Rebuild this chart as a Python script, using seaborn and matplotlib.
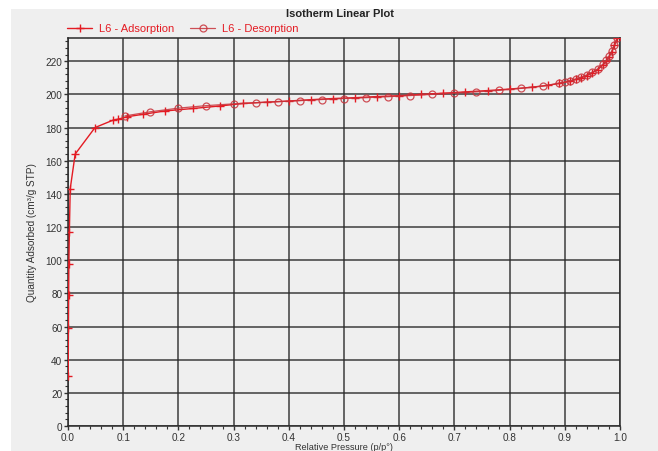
import numpy as np
import pandas as pd
import matplotlib
matplotlib.use("Agg")
import matplotlib.pyplot as plt
from matplotlib.patches import Rectangle
from matplotlib.ticker import MultipleLocator
import seaborn as sns

# ---- data ----
ads_p = [0.0004, 0.0008, 0.0012, 0.0016, 0.0025, 0.004, 0.013, 0.049, 0.082, 0.09,
         0.107, 0.136, 0.176, 0.227, 0.275, 0.317, 0.36, 0.40, 0.44, 0.48, 0.52,
         0.56, 0.60, 0.64, 0.68, 0.72, 0.76, 0.80, 0.84, 0.87, 0.89, 0.91, 0.92,
         0.93, 0.94, 0.95, 0.96, 0.97, 0.975, 0.98, 0.985, 0.99, 0.995]
ads_q = [30, 59, 79, 98, 117, 143, 164, 180, 184.5, 185, 186.5, 188, 190, 191.5,
         193, 194.5, 195.3, 196, 196.8, 197.5, 198, 198.7, 199.2, 200, 200.7,
         201.5, 202.3, 203.2, 204.3, 205.5, 206.6, 208, 209, 210, 211.3, 213,
         215, 218, 220, 222.5, 225.5, 229.5, 234]

des_p = [0.995, 0.99, 0.985, 0.98, 0.975, 0.97, 0.96, 0.95, 0.94, 0.93, 0.92,
         0.91, 0.90, 0.89, 0.86, 0.82, 0.78, 0.74, 0.70, 0.66, 0.62, 0.58, 0.54,
         0.50, 0.46, 0.42, 0.38, 0.34, 0.30, 0.25, 0.20, 0.149, 0.103]
des_q = [234, 230, 226, 223, 220.5, 218.5, 215.5, 213.5, 211.8, 210.5, 209.3,
         208.3, 207.5, 206.8, 205, 203.6, 202.4, 201.5, 200.8, 200, 199.3, 198.6,
         198, 197.5, 196.9, 196.2, 195.6, 195, 194.3, 193.2, 191.7, 189.5, 187]

x_ticks = [0.0, 0.1, 0.2, 0.3, 0.4, 0.5, 0.6, 0.7, 0.8, 0.9, 1.0]
y_ticks = [0, 20, 40, 60, 80, 100, 120, 140, 160, 180, 200, 220]

ads = pd.DataFrame({"p": ads_p, "q": ads_q})
des = pd.DataFrame({"p": des_p, "q": des_q})

sns.set_theme(style="white")
plt.rcParams["font.family"] = ["Liberation Sans", "DejaVu Sans"]

W, H = 658, 452
fig = plt.figure(figsize=(W / 100, H / 100), dpi=100, facecolor="white")
bg = "#efefef"
fig.patches.append(Rectangle((11 / W, 0), 1 - 11 / W, 1 - 10 / H,
                             transform=fig.transFigure, facecolor=bg,
                             edgecolor="none", zorder=-10))

ax = fig.add_axes([68 / W, 1 - 427 / H, (620 - 68) / W, (427 - 39) / H])
ax.set_zorder(1)
ax.set_facecolor(bg)

red = "#e41b23"
dred = "#c8323a"
sns.lineplot(data=ads, x="p", y="q", ax=ax, color=red, lw=1.0, marker="+",
             markersize=6, markeredgewidth=1.0, markeredgecolor=red,
             sort=False, label="L6 - Adsorption", zorder=3)
sns.lineplot(data=des, x="p", y="q", ax=ax, color=dred, lw=0.9, marker="o",
             markersize=5, markerfacecolor="none", markeredgewidth=0.9,
             markeredgecolor=dred, alpha=0.85,
             sort=False, label="L6 - Desorption", zorder=3)

ax.set_xlim(0, 1.0)
ax.set_ylim(0, 234)
ax.set_xticks(x_ticks)
ax.set_xticklabels([f"{v:.1f}" for v in x_ticks])
ax.set_yticks(y_ticks)
ax.set_yticklabels([str(v) for v in y_ticks])
ax.xaxis.set_minor_locator(MultipleLocator(0.02))
ax.yaxis.set_minor_locator(MultipleLocator(4))
ax.grid(True, which="major", color="#2a2a2a", lw=1.1, alpha=0.9)
ax.set_axisbelow(True)
for s in ax.spines.values():
    s.set_color("#2a2a2a")
    s.set_linewidth(1.1)
ax.tick_params(axis="both", which="major", direction="out", length=3,
               width=1.0, color="#333333", labelsize=7.2, labelcolor="#333333",
               pad=1, bottom=True, left=True)
ax.tick_params(axis="both", which="minor", direction="out", length=2,
               width=0.8, color="#333333", bottom=True, left=True)

ax.set_xlabel("Relative Pressure (p/p°)", fontsize=6.6, color="#333333", va="top")
ax.xaxis.set_label_coords(0.5, -0.041)
ax.set_ylabel("Quantity Adsorbed (cm³/g STP)", fontsize=7.2, color="#333333", labelpad=6)

fig.text(340 / W, 1 - 14 / H, "Isotherm Linear Plot", ha="center", va="center",
         fontsize=8, fontweight="bold", color="#222222")

leg = ax.legend(loc="lower left", bbox_to_anchor=(-0.005, 1.006), ncol=2, frameon=False,
                fontsize=8, handlelength=2.2, handletextpad=0.6, columnspacing=1.5,
                borderaxespad=0.1, borderpad=0.1)
for t in leg.get_texts():
    t.set_color(red)

fig.savefig("out.png", dpi=100, facecolor="white")
